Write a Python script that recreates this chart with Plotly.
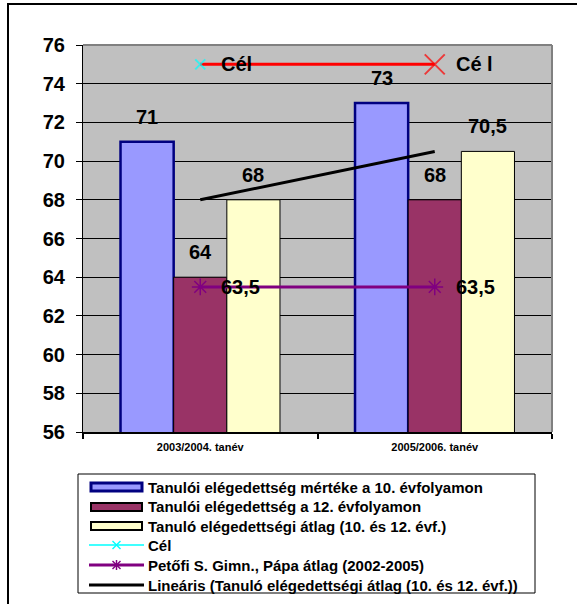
import plotly.graph_objects as go

categories = ["2003/2004. tanév", "2005/2006. tanév"]
s10 = [71, 73]
s12 = [64, 68]
avg = [68, 70.5]
cel = [75, 75]
petofi = [63.5, 63.5]
trend = [68, 70.5]
y_ticks = [56, 58, 60, 62, 64, 66, 68, 70, 72, 74, 76]
cel_labels = ["Cél", "Cé l"]
petofi_labels = ["63,5", "63,5"]

names = [
    "Tanulói elégedettség mértéke a 10. évfolyamon",
    "Tanulói elégedettség a 12. évfolyamon",
    "Tanuló elégedettségi átlag (10. és 12. évf.)",
    "Cél",
    "Petőfi S. Gimn., Pápa átlag (2002-2005)",
    "Lineáris (Tanuló elégedettségi átlag (10. és 12. évf.))",
]
title_text = "A tanulói elégedettség mértékének alakulása a gimnáziumban (%)"

FONT = "Liberation Sans, Arial, sans-serif"
W, H = 577, 604
L, R, T, B = 83, 25, 45, 172

def px_x(p):
    return (p - L) / (W - L - R)

def px_y(p):
    return (H - B - p) / (H - T - B)

def b(s):
    return "<b>" + s + "</b>"

BLUE, BLUE_EDGE = "#9999FF", "#000080"
MAROON, YELLOW = "#993366", "#FFFFCC"
CYAN, RED, PURPLE = "#00FFFF", "#FF0000", "#800080"

fig = go.Figure()
bar_styles = [
    (s10, BLUE, BLUE_EDGE, 2.5),
    (s12, MAROON, "#000000", 1),
    (avg, YELLOW, "#000000", 1),
]
for i, (vals, fc, lc, lw) in enumerate(bar_styles):
    fig.add_trace(go.Bar(x=categories, y=vals, name=names[i],
                         marker=dict(color=fc, line=dict(color=lc, width=lw))))

fig.add_trace(go.Scatter(x=categories, y=cel, mode="lines+markers", name=names[3],
                         line=dict(color=RED, width=3),
                         marker=dict(symbol="x-thin", size=[10, 20], line=dict(color=[CYAN, RED], width=2))))
fig.add_trace(go.Scatter(x=categories, y=petofi, mode="lines+markers", name=names[4],
                         line=dict(color=PURPLE, width=3),
                         marker=dict(symbol="asterisk", size=14, line=dict(color=PURPLE, width=1.5))))
fig.add_trace(go.Scatter(x=categories, y=trend, mode="lines", name=names[5],
                         line=dict(color="black", width=3)))

# line labels
for vals, labels in [(cel, cel_labels), (petofi, petofi_labels)]:
    for c, v, t in zip(categories, vals, labels):
        fig.add_annotation(x=c, y=v, xanchor="left", xshift=19, showarrow=False, text=b(t),
                           font=dict(family=FONT, size=20, color="black"))

# bar value labels
offsets = [-53, 0, 53]
for vals, off in zip([s10, s12, avg], offsets):
    for c, v in zip(categories, vals):
        fig.add_annotation(x=c, y=v, xshift=off, yshift=25, showarrow=False,
                           text=b(str(v).replace(".", ",")),
                           font=dict(family=FONT, size=20, color="black"))

# partially visible title at the top edge
fig.add_annotation(xref="paper", yref="paper", x=px_x(358), y=px_y(-11), yanchor="middle",
                   showarrow=False, text=title_text,
                   font=dict(family=FONT, size=12, color="black"))

def pline(x0, y0, x1, y1, color, width):
    return dict(type="line", xref="paper", yref="paper", x0=px_x(x0), y0=px_y(y0), x1=px_x(x1), y1=px_y(y1),
                line=dict(color=color, width=width))

shapes = [
    dict(type="rect", xref="paper", yref="paper", x0=px_x(8), x1=px_x(640), y0=px_y(4), y1=px_y(660),
         line=dict(color="black", width=2), layer="above"),
    dict(type="line", xref="paper", yref="paper", x0=0, x1=1, y0=1, y1=1, line=dict(color="#808080", width=2)),
    dict(type="line", xref="paper", yref="paper", x0=1, x1=1, y0=0, y1=1, line=dict(color="#808080", width=2)),
    # legend box
    dict(type="rect", xref="paper", yref="paper", x0=px_x(78), x1=px_x(535), y0=px_y(474), y1=px_y(593),
         line=dict(color="black", width=1), fillcolor="white", layer="above"),
]

# legend rows
rows = [487, 507, 526, 545, 565, 585]
sx0, sx1, sxm = 91, 142, 116.5
legend_shapes = []
for (vals, fc, lc, lw), ry in zip(bar_styles, rows[:3]):
    legend_shapes.append(dict(type="rect", xref="paper", yref="paper", x0=px_x(sx0), x1=px_x(sx1),
                              y0=px_y(ry - 4), y1=px_y(ry + 4), fillcolor=fc,
                              line=dict(color=lc, width=3 if lc == BLUE_EDGE else 2)))
ry = rows[3]
legend_shapes += [pline(sx0 - 2, ry, sx1 + 2, ry, CYAN, 1.5),
                  pline(sxm - 4, ry - 4, sxm + 4, ry + 4, CYAN, 1.5),
                  pline(sxm - 4, ry + 4, sxm + 4, ry - 4, CYAN, 1.5)]
ry = rows[4]
legend_shapes += [pline(sx0 - 2, ry, sx1 + 2, ry, PURPLE, 3),
                  pline(sxm - 4, ry - 4, sxm + 4, ry + 4, PURPLE, 1.5),
                  pline(sxm - 4, ry + 4, sxm + 4, ry - 4, PURPLE, 1.5),
                  pline(sxm, ry - 5, sxm, ry + 5, PURPLE, 1.5)]
ry = rows[5]
legend_shapes += [pline(sx0 - 2, ry, sx1 + 2, ry, "black", 3)]
for s in legend_shapes:
    s["layer"] = "above"
shapes += legend_shapes

for name, ry in zip(names, rows):
    fig.add_annotation(xref="paper", yref="paper", x=px_x(146), y=px_y(ry), xanchor="left", yanchor="middle",
                       showarrow=False, text=b(name), font=dict(family=FONT, size=15, color="black"))

fig.update_layout(
    width=W, height=H, margin=dict(l=L, r=R, t=T, b=B, pad=0, autoexpand=False),
    paper_bgcolor="white", plot_bgcolor="#C0C0C0",
    barmode="group", bargap=0.32, bargroupgap=0,
    font=dict(family=FONT, color="black"),
    shapes=shapes, showlegend=False,
)
fig.update_yaxes(range=[56, 76], tickvals=y_ticks, ticktext=[b(str(t)) for t in y_ticks],
                 showgrid=True, gridcolor="black", gridwidth=1, ticklabelstandoff=7,
                 ticks="outside", ticklen=6, tickcolor="black", showline=True, linecolor="black", linewidth=1,
                 tickfont=dict(family=FONT, size=20, color="black"), zeroline=False)
fig.update_xaxes(tickson="boundaries", ticks="outside", ticklen=5, tickcolor="black", tickwidth=1.5,
                 showline=True, linecolor="black", linewidth=2, showgrid=False, ticklabelstandoff=4,
                 tickvals=categories, ticktext=[b(c) for c in categories],
                 tickfont=dict(family=FONT, size=11, color="black"))

fig.write_html("out.html", config={"displayModeBar": False},
               post_script="document.body.style.margin='0px';document.body.style.overflow='hidden';")
